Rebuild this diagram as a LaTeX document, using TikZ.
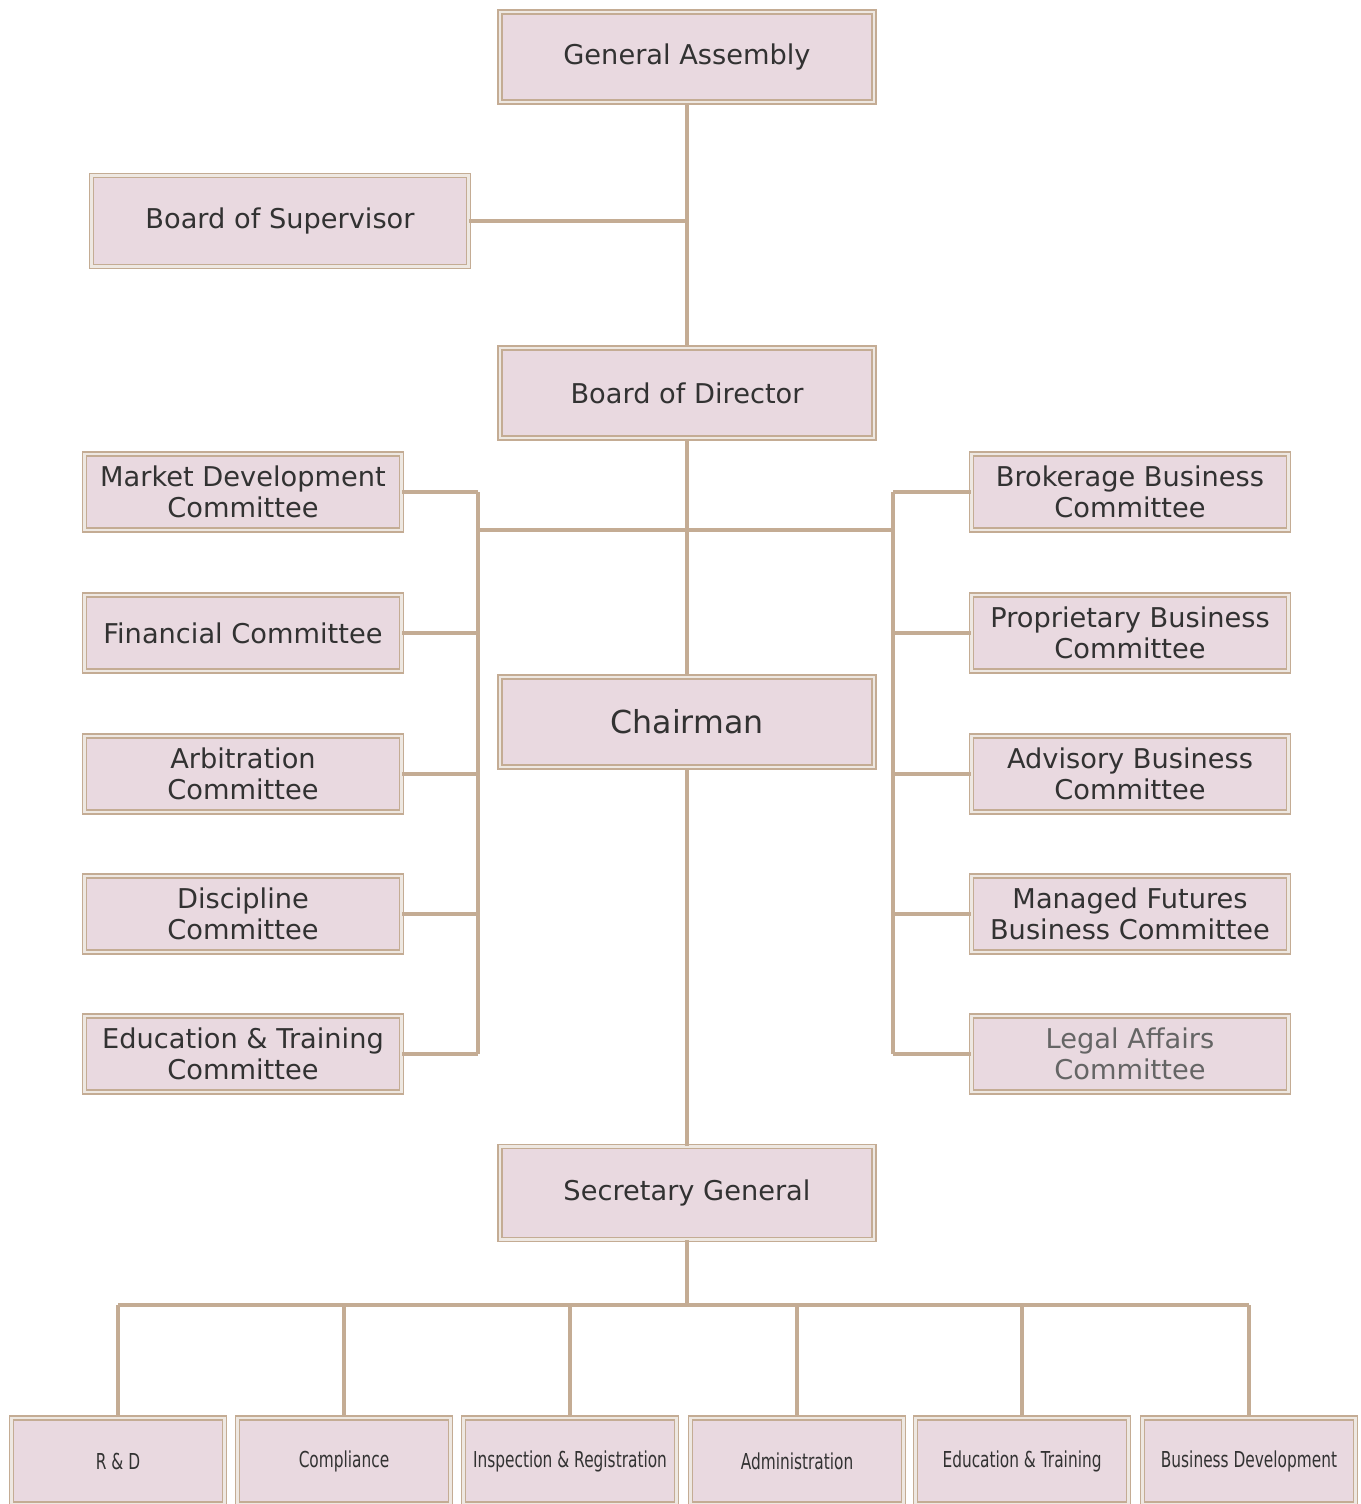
\documentclass[tikz,border=0pt]{standalone}
\usepackage{fontspec}
\setmainfont{DejaVu Sans}
\newfontfamily\narrowfont[FakeStretch=0.7]{DejaVu Sans}
\definecolor{boxfill}{RGB}{233,217,224}
\definecolor{boxline}{RGB}{196,172,148}
\definecolor{boxgap}{RGB}{238,232,226}
\definecolor{boxtext}{RGB}{50,50,50}
\tikzset{
  orgbox/.style={draw=boxline, line width=0.9pt, double=boxgap, double distance=1.2pt,
    fill=boxfill, text=boxtext, inner sep=0pt, align=center},
  topbox/.style={orgbox, minimum width=7.48cm, minimum height=1.8cm,
    font=\fontsize{15.5}{18}\selectfont},
  combox/.style={orgbox, minimum width=6.34cm, minimum height=1.52cm,
    font=\fontsize{15.5}{17.5}\selectfont},
  deptbox/.style={orgbox, minimum width=4.26cm, minimum height=1.72cm,
    font=\narrowfont\fontsize{12.5}{14}\selectfont},
  link/.style={draw=boxline, line width=2.2pt}
}
\begin{document}
\begin{tikzpicture}[x=0.02cm, y=-0.02cm]
\useasboundingbox[fill=white] (0,0) rectangle (1360,1504);
% main line of boxes
\node[topbox] (GA) at (687,57) {General Assembly};
\node[topbox, minimum width=7.54cm, minimum height=1.82cm] (BS) at (280,221) {Board of Supervisor};
\node[topbox] (BD) at (687,393) {Board of Director};
\node[topbox, font=\fontsize{18}{20}\selectfont] (CH) at (687,722) {Chairman};
\node[topbox, minimum height=1.86cm] (SG) at (687,1193) {Secretary General};
% committees
\foreach \name/\y/\txt in {L1/492/{Market Development\\Committee},
    L2/633/{Financial Committee}, L3/774/{Arbitration\\Committee},
    L4/914/{Discipline\\Committee}, L5/1054/{Education \& Training\\Committee}}
    \node[combox] (\name) at (243,\y) {\txt};
\foreach \name/\y/\txt in {R1/492/{Brokerage Business\\Committee},
    R2/633/{Proprietary Business\\Committee}, R3/774/{Advisory Business\\Committee},
    R4/914/{Managed Futures\\Business Committee}}
    \node[combox] (\name) at (1130,\y) {\txt};
\node[combox, text=boxtext!75] (R5) at (1130,1054) {Legal Affairs\\Committee};
% departments
\foreach \name/\x/\txt in {D1/118/{R \& D}, D2/344/{Compliance},
    D3/570/{Inspection \& Registration}, D4/797/{Administration},
    D5/1022/{Education \& Training}, D6/1249/{Business Development}}
    \node[deptbox] (\name) at (\x,1461) {\txt};
\coordinate (lbus) at (478,530);
\coordinate (rbus) at (893,530);
\coordinate (sgj) at (687,1305);
% connectors
\draw[link] (GA.south) -- (BD.north);
\draw[link] (BD.south) -- (CH.north);
\draw[link] (CH.south) -- (SG.north);
\draw[link] (BS.east) -- (BS.east -| GA.south);
\draw[link] (lbus) -- (rbus);
\draw[link] (L1.east -| lbus) -- (L5.east -| lbus);
\draw[link] (R1.west -| rbus) -- (R5.west -| rbus);
\foreach \i in {1,...,5} {
    \draw[link] (L\i.east) -- (L\i.east -| lbus);
    \draw[link] (R\i.west) -- (R\i.west -| rbus);
}
\draw[link] (SG.south) -- (sgj);
\draw[link] (D1.north |- sgj) -- (D6.north |- sgj);
\foreach \i in {1,...,6}
    \draw[link] (D\i.north) -- (D\i.north |- sgj);
\end{tikzpicture}
\end{document}
